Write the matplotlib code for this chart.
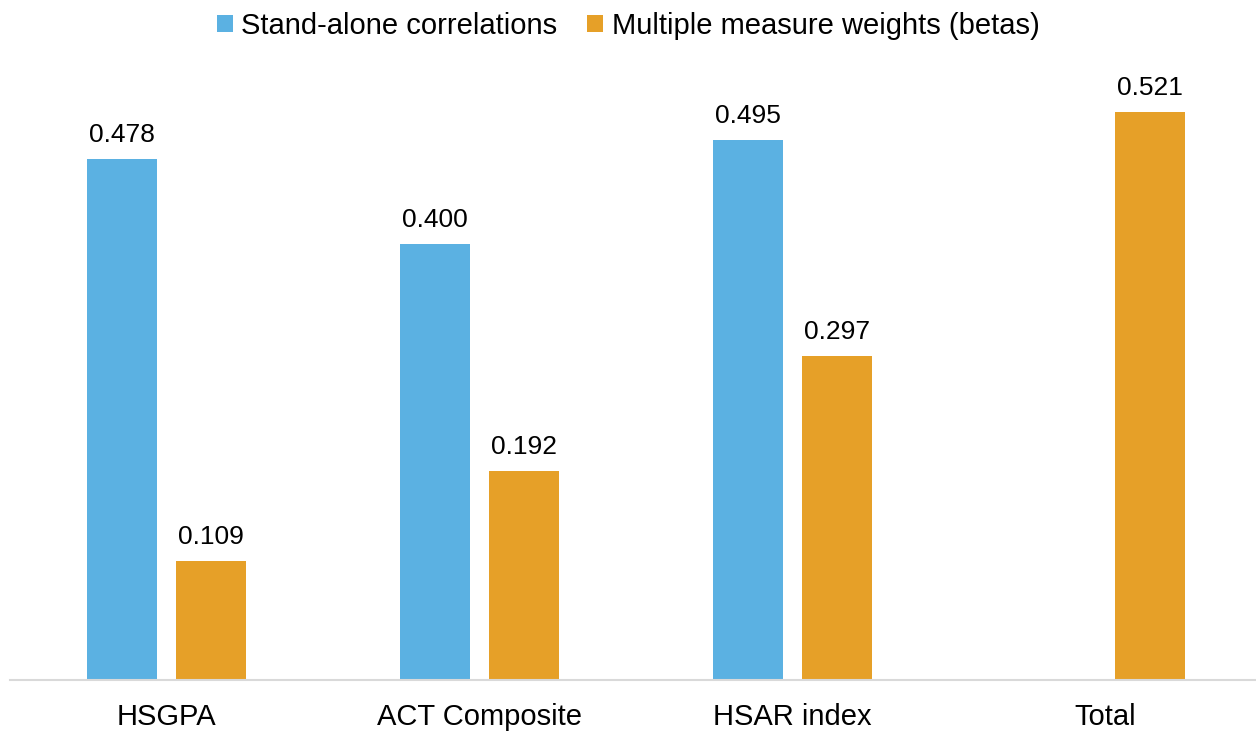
import matplotlib.pyplot as plt
import numpy as np

plt.rcParams["font.family"] = ["Liberation Sans", "DejaVu Sans"]

categories = ["HSGPA", "ACT Composite", "HSAR index", "Total"]
standalone = [0.478, 0.400, 0.495, np.nan]
betas = [0.109, 0.192, 0.297, 0.521]

C_BLUE = "#5BB1E2"
C_ORANGE = "#E6A028"

W, H = 1256, 732
fig = plt.figure(figsize=(W / 100, H / 100), dpi=100)
ax = fig.add_axes([10 / W, 52 / H, 1252 / W, 654 / H])

x = np.arange(len(categories))
w = 0.2236
off = 0.142
b1 = ax.bar(x - off, standalone, w, color=C_BLUE, label="Stand-alone correlations")
b2 = ax.bar(x + off, betas, w, color=C_ORANGE, label="Multiple measure weights (betas)")

for bars, vals in ((b1, standalone), (b2, betas)):
    for bar, v in zip(bars, vals):
        if np.isnan(v):
            continue
        ax.text(bar.get_x() + bar.get_width() / 2, v + 0.011, f"{v:.3f}",
                ha="center", va="bottom", fontsize=19)

ax.set_xlim(-0.5, 3.5)
ax.set_ylim(0, 0.6)
ax.set_xticks(x)
ax.set_xticklabels(categories, fontsize=21)
ax.tick_params(axis="x", length=0, pad=16.5)
ax.set_yticks([])
for side in ("top", "right", "left"):
    ax.spines[side].set_visible(False)
ax.spines["bottom"].set_color("#D9D9D9")
ax.spines["bottom"].set_linewidth(1.5)

fig.legend(loc="upper center", bbox_to_anchor=(0.5, 1.0), ncol=2, frameon=False,
           fontsize=21, handlelength=0.55, handleheight=0.55, handletextpad=0.3,
           columnspacing=1.0, borderaxespad=0.0)

fig.savefig("out.png", dpi=100)
